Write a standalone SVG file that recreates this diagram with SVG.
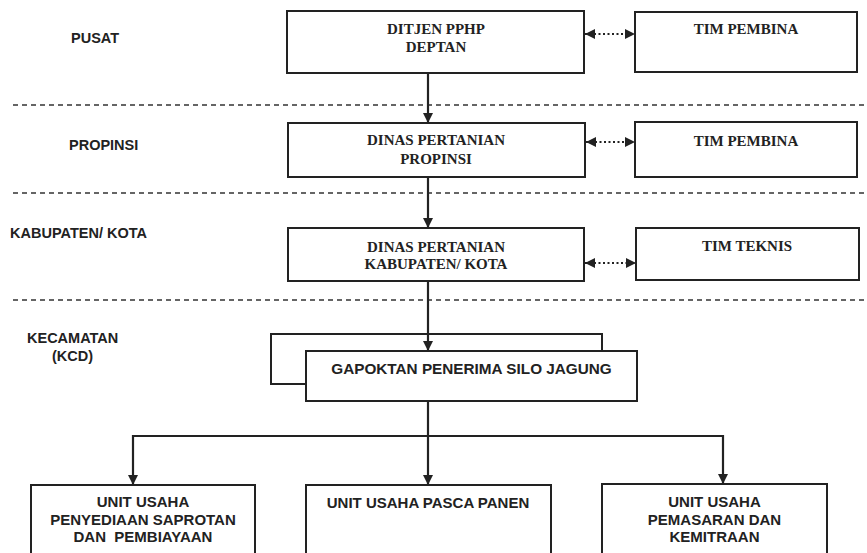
<svg xmlns="http://www.w3.org/2000/svg" width="867" height="553" viewBox="0 0 867 553">
<defs>
<style>
.box{fill:#fff;stroke:#222;stroke-width:2}
.lvl{font-family:"Liberation Sans",Arial,sans-serif;font-weight:bold;font-size:14.5px;fill:#222}
.ser{font-family:"Liberation Serif","Times New Roman",serif;font-weight:bold;font-size:15px;fill:#222;text-anchor:middle}
.san{font-family:"Liberation Sans",Arial,sans-serif;font-weight:bold;font-size:15px;fill:#222;text-anchor:middle}
.dash{stroke:#333;stroke-width:1.3;stroke-dasharray:5 4;fill:none}
.con{stroke:#222;stroke-width:2.2;fill:none}
.dot{stroke:#222;stroke-width:2.2;stroke-dasharray:2 2.5;fill:none}
</style>
<marker id="ah" viewBox="0 0 10 10" refX="10" refY="5" markerWidth="10" markerHeight="10" markerUnits="userSpaceOnUse" orient="auto-start-reverse">
<path d="M0,0 L10,5 L0,10 Z" fill="#222"/>
</marker>
<marker id="dh" viewBox="0 0 10 10" refX="10" refY="5" markerWidth="11" markerHeight="10" markerUnits="userSpaceOnUse" orient="auto-start-reverse">
<path d="M0,0 L10,5 L0,10 Z" fill="#222"/>
</marker>
</defs>
<rect width="867" height="553" fill="#fff"/>

<g id="levels">
<text class="lvl" x="71" y="43">PUSAT</text>
<text class="lvl" x="69" y="150">PROPINSI</text>
<text class="lvl" x="10" y="238">KABUPATEN/ KOTA</text>
<text class="lvl" x="27" y="343">KECAMATAN</text>
<text class="lvl" x="52" y="361">(KCD)</text>
</g>

<g id="separators">
<line class="dash" x1="13" y1="105" x2="867" y2="105"/>
<line class="dash" x1="13" y1="193" x2="867" y2="193"/>
<line class="dash" x1="13" y1="300" x2="867" y2="300"/>
</g>

<g id="ditjen">
<rect class="box" x="287" y="11" width="297" height="62"/>
<text class="ser" x="436" y="34">DITJEN PPHP</text>
<text class="ser" x="436" y="52">DEPTAN</text>
</g>
<g id="tim-pembina-pusat">
<rect class="box" x="635" y="12" width="222" height="60"/>
<text class="ser" x="746" y="34">TIM PEMBINA</text>
</g>
<g id="dinas-propinsi">
<rect class="box" x="288" y="123" width="297" height="54"/>
<text class="ser" x="436" y="145">DINAS PERTANIAN</text>
<text class="ser" x="436" y="164">PROPINSI</text>
</g>
<g id="tim-pembina-propinsi">
<rect class="box" x="635" y="122" width="222" height="55"/>
<text class="ser" x="746" y="146">TIM PEMBINA</text>
</g>
<g id="dinas-kabupaten">
<rect class="box" x="288" y="228" width="296" height="53"/>
<text class="ser" x="436" y="252">DINAS PERTANIAN</text>
<text class="ser" x="436" y="269">KABUPATEN/ KOTA</text>
</g>
<g id="tim-teknis">
<rect class="box" x="636" y="228" width="223" height="52"/>
<text class="ser" x="747" y="251">TIM TEKNIS</text>
</g>
<g id="gapoktan">
<rect class="box" x="271" y="334" width="331" height="50"/>
<rect class="box" x="306" y="351" width="331" height="50"/>
<text class="san" x="471.5" y="374" style="font-size:15.3px">GAPOKTAN PENERIMA SILO JAGUNG</text>
</g>
<g id="unit-saprotan">
<rect class="box" x="31" y="485" width="224" height="80"/>
<text class="san" x="143" y="507">UNIT USAHA</text>
<text class="san" x="143" y="525">PENYEDIAAN SAPROTAN</text>
<text class="san" x="143" y="542" xml:space="preserve">DAN  PEMBIAYAAN</text>
</g>
<g id="unit-pasca-panen">
<rect class="box" x="306" y="485" width="245" height="80"/>
<text class="san" x="428" y="508">UNIT USAHA PASCA PANEN</text>
</g>
<g id="unit-pemasaran">
<rect class="box" x="602" y="484" width="225" height="80"/>
<text class="san" x="714.5" y="507">UNIT USAHA</text>
<text class="san" x="714.5" y="525">PEMASARAN DAN</text>
<text class="san" x="714.5" y="542">KEMITRAAN</text>
</g>

<g id="connectors">
<line class="con" x1="428" y1="73" x2="428" y2="123" marker-end="url(#ah)"/>
<line class="con" x1="428" y1="177" x2="428" y2="228" marker-end="url(#ah)"/>
<line class="con" x1="428" y1="281" x2="428" y2="351" marker-end="url(#ah)"/>
<line class="con" x1="428" y1="401" x2="428" y2="485" marker-end="url(#ah)"/>
<polyline class="con" points="133,485 133,436 723,436 723,484" marker-start="url(#ah)" marker-end="url(#ah)"/>
<line class="dot" x1="585" y1="34" x2="635" y2="34" marker-start="url(#dh)" marker-end="url(#dh)"/>
<line class="dot" x1="586" y1="142" x2="635" y2="142" marker-start="url(#dh)" marker-end="url(#dh)"/>
<line class="dot" x1="585" y1="263" x2="636" y2="263" marker-start="url(#dh)" marker-end="url(#dh)"/>
</g>
</svg>
